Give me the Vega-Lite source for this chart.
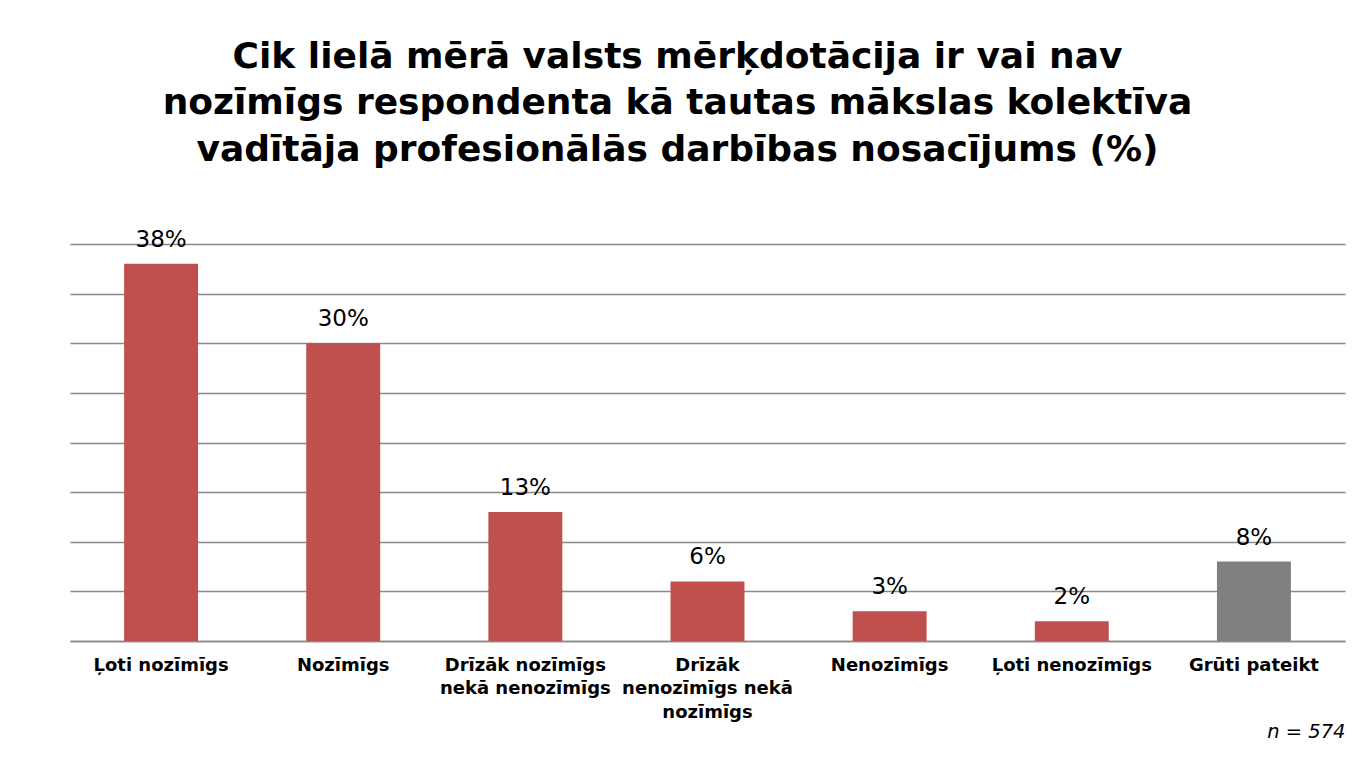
{
  "$schema": "https://vega.github.io/schema/vega-lite/v6.json",
  "width": 1275,
  "height": 397,
  "autosize": {"type": "none"},
  "padding": {"left": 70, "top": 244, "right": 9, "bottom": 117},
  "background": "white",
  "config": {
    "font": "DejaVu Sans",
    "view": {"stroke": null}
  },
  "title": {
    "text": [
      "Cik lielā mērā valsts mērķdotācija ir vai nav",
      "nozīmīgs respondenta kā tautas mākslas kolektīva",
      "vadītāja profesionālās darbības nosacījums (%)"
    ],
    "font": "DejaVu Sans",
    "fontSize": 36,
    "fontWeight": "bold",
    "color": "#000000",
    "lineHeight": 46.5,
    "anchor": "middle",
    "frame": "group",
    "dx": -30,
    "offset": 60
  },
  "data": {
    "values": [
      {"kategorija": "Ļoti nozīmīgs", "procenti": 38, "teksts": "38%", "grupa": "a"},
      {"kategorija": "Nozīmīgs", "procenti": 30, "teksts": "30%", "grupa": "a"},
      {"kategorija": "Drīzāk nozīmīgs|nekā nenozīmīgs", "procenti": 13, "teksts": "13%", "grupa": "a"},
      {"kategorija": "Drīzāk|nenozīmīgs nekā|nozīmīgs", "procenti": 6, "teksts": "6%", "grupa": "a"},
      {"kategorija": "Nenozīmīgs", "procenti": 3, "teksts": "3%", "grupa": "a"},
      {"kategorija": "Ļoti nenozīmīgs", "procenti": 2, "teksts": "2%", "grupa": "a"},
      {"kategorija": "Grūti pateikt", "procenti": 8, "teksts": "8%", "grupa": "b"}
    ]
  },
  "encoding": {
    "x": {
      "field": "kategorija",
      "type": "nominal",
      "sort": null,
      "scale": {"paddingInner": 0.594, "paddingOuter": 0.297},
      "axis": {
        "title": "n = 574",
        "titleFont": "DejaVu Sans",
        "titleFontStyle": "italic",
        "titleFontWeight": "normal",
        "titleFontSize": 19.5,
        "titleColor": "#000000",
        "titleAnchor": "end",
        "titleAlign": "right",
        "titleBaseline": "alphabetic",
        "titleY": 96,
        "labelExpr": "split(datum.value, '|')",
        "labelAngle": 0,
        "labelFont": "DejaVu Sans",
        "labelFontSize": 18,
        "labelFontWeight": "bold",
        "labelColor": "#000000",
        "labelLineHeight": 23.5,
        "labelPadding": 15,
        "labelBaseline": "top",
        "ticks": false,
        "tickSize": 0,
        "domainColor": "#898989",
        "domainWidth": 1.3,
        "labelOverlap": false,
        "labelLimit": 300
      }
    },
    "y": {
      "field": "procenti",
      "type": "quantitative",
      "scale": {"domain": [0, 40], "nice": false},
      "axis": {
        "title": null,
        "labels": false,
        "ticks": false,
        "domain": false,
        "grid": true,
        "values": [0, 5, 10, 15, 20, 25, 30, 35, 40],
        "gridColor": "#898989",
        "gridWidth": 1.3
      }
    }
  },
  "layer": [
    {
      "mark": {"type": "bar"},
      "encoding": {
        "color": {
          "field": "grupa",
          "type": "nominal",
          "scale": {"domain": ["a", "b"], "range": ["#C0504D", "#808080"]},
          "legend": null
        }
      }
    },
    {
      "mark": {
        "type": "text",
        "baseline": "alphabetic",
        "dy": -17,
        "fontSize": 23,
        "font": "DejaVu Sans",
        "color": "#000000"
      },
      "encoding": {
        "text": {"field": "teksts", "type": "nominal"}
      }
    }
  ]
}
